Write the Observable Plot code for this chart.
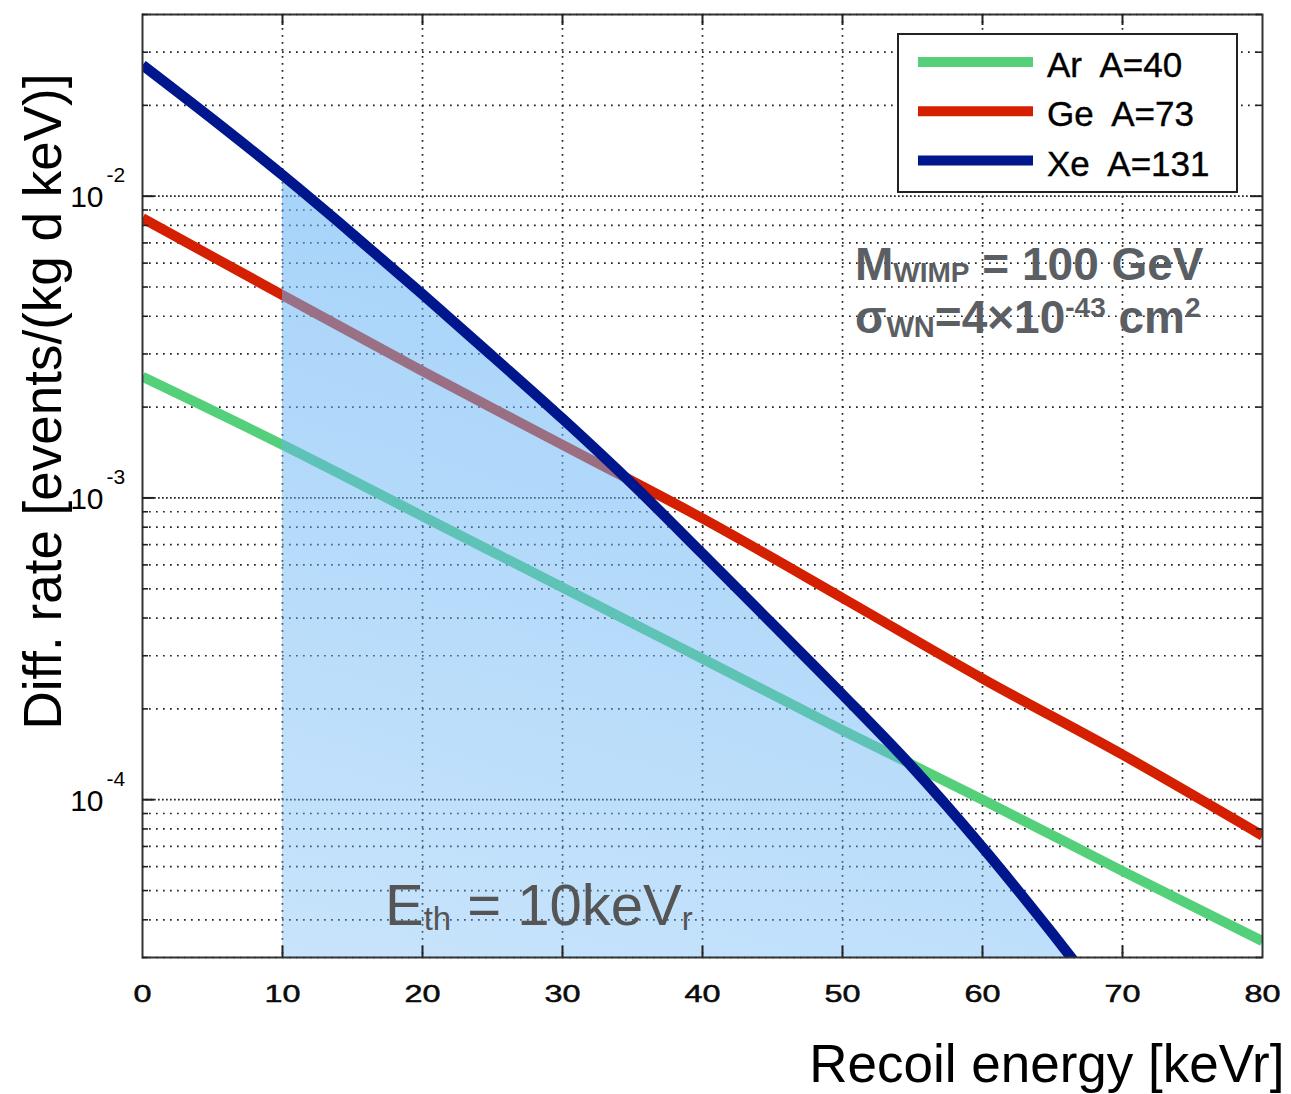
<!DOCTYPE html>
<html><head><meta charset="utf-8">
<script src="https://cdn.jsdelivr.net/npm/d3@7"></script>
<script src="https://cdn.jsdelivr.net/npm/@observablehq/plot@0.6"></script>
<style>
html,body{margin:0;padding:0;background:#fff;}
#chart{width:1291px;height:1094px;}
</style></head><body><div id="chart"></div>
<script>
// ---- data ----
const xeEnergy = [0, 5, 10, 15, 20, 25, 30, 35, 40, 45, 50, 55, 60, 65, 67];
const xeRate = [0.0272, 0.0180, 0.01175, 0.0075, 0.00473, 0.00295, 0.00183, 0.00111, 6.53e-4, 3.82e-4, 2.23e-4, 1.28e-4, 6.95e-5, 3.6e-5, 2.74e-5];
const energy = [0, 10, 20, 30, 40, 50, 60, 70, 80];
const geRate = [8.45e-3, 4.70e-3, 2.63e-3, 1.50e-3, 8.55e-4, 4.66e-4, 2.52e-4, 1.41e-4, 7.6e-5];
const arRate = [2.52e-3, 1.50e-3, 8.7e-4, 5.05e-4, 2.93e-4, 1.70e-4, 1.0e-4, 5.8e-5, 3.4e-5];
const seriesNames = ["Ar  A=40", "Ge  A=73", "Xe  A=131"];
const seriesColors = ["#55d07a", "#d42000", "#00168c"];
const threshold = 10;
const xTicks = [0, 10, 20, 30, 40, 50, 60, 70, 80];
const yMajorTicks = [1e-4, 1e-3, 1e-2];
const yExponents = ["-4", "-3", "-2"];
const xDomain = [0, 80];
const yDomain = [3e-5, 4e-2];
const xTitle = "Recoil energy [keVr]";
const yTitle = "Diff. rate [events/(kg d keV)]";

// ---- layout ----
const W = 1291, H = 1094, mL = 142, mR = 29, mT = 14, mB = 137;
const innerW = W - mL - mR, innerH = H - mT - mB;
const FONT = "'Liberation Sans', Arial, Helvetica, sans-serif";

const yMinor = [];
for (let k = -5; k <= -2; k++) for (let m = 2; m <= 9; m++) {
  const v = m * Math.pow(10, k);
  if (v >= yDomain[0] * 0.999 && v <= yDomain[1] * 1.001) yMinor.push(v);
}
const innerXTicks = xTicks.filter(d => d > xDomain[0] && d < xDomain[1]);

const xe = xeEnergy.map((e, i) => ({e, v: xeRate[i]}));
const ge = energy.map((e, i) => ({e, v: geRate[i]}));
const ar = energy.map((e, i) => ({e, v: arRate[i]}));
const fillData = xe.filter(d => d.e >= threshold);

const gridStroke = "#222";
const chart = Plot.plot({
  width: W, height: H,
  marginLeft: mL, marginRight: mR, marginTop: mT, marginBottom: mB,
  style: {fontFamily: FONT, background: "#fff", overflow: "visible", color: "#000"},
  x: {domain: xDomain, axis: null},
  y: {type: "log", domain: yDomain, axis: null},
  marks: [
    Plot.ruleY(yMinor, {stroke: gridStroke, strokeWidth: 1.7, strokeDasharray: "1.7,5.3"}),
    Plot.ruleY(yMajorTicks, {stroke: gridStroke, strokeWidth: 1.7, strokeDasharray: "1.7,2.3"}),
    Plot.ruleX(innerXTicks, {stroke: gridStroke, strokeWidth: 1.7, strokeDasharray: "1.7,5.3"}),
    Plot.line(ar, {x: "e", y: "v", stroke: seriesColors[0], strokeWidth: 10, curve: "monotone-x", clip: true, strokeLinecap: "butt"}),
    Plot.line(ge, {x: "e", y: "v", stroke: seriesColors[1], strokeWidth: 10, curve: "monotone-x", clip: true, strokeLinecap: "butt"}),
    Plot.areaY(fillData, {x: "e", y1: yDomain[0], y2: "v", fill: "url(#ethFill)", curve: "monotone-x", clip: true}),
    Plot.line(xe, {x: "e", y: "v", stroke: seriesColors[2], strokeWidth: 10.5, curve: "monotone-x", clip: true, strokeLinecap: "butt"}),
    Plot.frame({stroke: "#333", strokeWidth: 2}),
    // inward ticks
    Plot.ruleY(yMajorTicks, {insetRight: innerW - 12, stroke: "#222", strokeWidth: 2}),
    Plot.ruleY(yMajorTicks, {insetLeft: innerW - 12, stroke: "#222", strokeWidth: 2}),
    Plot.ruleY(yMinor, {insetRight: innerW - 6, stroke: "#222", strokeWidth: 1.6}),
    Plot.ruleY(yMinor, {insetLeft: innerW - 6, stroke: "#222", strokeWidth: 1.6}),
    Plot.ruleX(innerXTicks, {insetTop: innerH - 11, stroke: "#222", strokeWidth: 2}),
    Plot.ruleX(innerXTicks, {insetBottom: innerH - 11, stroke: "#222", strokeWidth: 2}),
    // tick labels
    Plot.text(xTicks, {x: d => d, y: yDomain[0], text: d => String(d), lineAnchor: "bottom", dy: 44, fontSize: 23, fill: "#0a0a0a", stroke: "#0a0a0a", strokeWidth: 0.5}),
    Plot.text(yMajorTicks, {x: xDomain[0], y: d => d, text: () => "10", textAnchor: "end", lineAnchor: "bottom", dx: -39, dy: 11, fontSize: 30, fill: "#000"}),
    Plot.text(yMajorTicks, {x: xDomain[0], y: d => d, text: (d, i) => yExponents[i], textAnchor: "start", lineAnchor: "bottom", dx: -36, dy: -14, fontSize: 21, fill: "#000"}),
    // axis titles
    Plot.text([yTitle], {frameAnchor: "left", rotate: -90, dx: -82, dy: -84.5, fontSize: 53, lineAnchor: "bottom", textAnchor: "middle", fill: "#000"}),
    Plot.text([xTitle], {frameAnchor: "bottom-right", textAnchor: "end", lineAnchor: "bottom", dx: 22, dy: 124, fontSize: 53, fill: "#000"})
  ]
});

const svg = d3.select(chart);
// gradient for threshold fill
const defs = svg.insert("defs", ":first-child");
const grad = defs.append("linearGradient").attr("id", "ethFill")
  .attr("x1", 0.3).attr("y1", 0).attr("x2", 0).attr("y2", 1);
grad.append("stop").attr("offset", 0).attr("stop-color", "rgb(104,180,245)").attr("stop-opacity", 0.6);
grad.append("stop").attr("offset", 1).attr("stop-color", "rgb(104,180,245)").attr("stop-opacity", 0.36);

// stretch x tick labels like the original bitmap font
svg.selectAll('g[fill="#0a0a0a"] text').each(function() {
  const n = this.textContent.length;
  this.setAttribute("textLength", 18 * n);
  this.setAttribute("lengthAdjust", "spacingAndGlyphs");
});

// legend
const lg = svg.append("g").attr("transform", "translate(898,34)")
  .attr("font-family", FONT).attr("text-anchor", "start");
lg.append("rect").attr("width", 339).attr("height", 158).attr("fill", "#fff").attr("stroke", "#222").attr("stroke-width", 2);
seriesNames.forEach((name, i) => {
  const cy = 28 + i * 49.3;
  lg.append("line").attr("x1", 20).attr("x2", 135).attr("y1", cy).attr("y2", cy)
    .attr("stroke", seriesColors[i]).attr("stroke-width", 10);
  lg.append("text").attr("x", 149).attr("y", cy + 15).attr("font-size", 35).attr("fill", "#000")
    .attr("stroke", "#000").attr("stroke-width", 0.4)
    .style("white-space", "pre").text(name);
});

// parameter annotation
const ann = svg.append("g").attr("fill", "#5b5f64").attr("font-weight", "bold")
  .attr("font-family", FONT).attr("font-size", 46).attr("text-anchor", "start");
const t1 = ann.append("text").attr("x", 855).attr("y", 280).style("white-space", "pre");
t1.append("tspan").text("M");
t1.append("tspan").attr("font-size", 28).attr("dy", 2).text("WIMP");
t1.append("tspan").attr("dy", -2).text(" = 100 GeV");
const t2 = ann.append("text").attr("x", 855).attr("y", 333).style("white-space", "pre");
t2.append("tspan").text("σ");
t2.append("tspan").attr("font-size", 29).attr("dy", 4).text("WN");
t2.append("tspan").attr("dy", -4).text("=4×10");
t2.append("tspan").attr("font-size", 28).attr("dy", -16).text("-43");
t2.append("tspan").attr("dy", 16).text(" cm");
t2.append("tspan").attr("font-size", 28).attr("dy", -16).text("2");

// threshold annotation
const t3 = svg.append("text").attr("x", 385).attr("y", 925).attr("fill", "#555").attr("text-anchor", "start")
  .attr("font-family", FONT).attr("font-size", 58).style("white-space", "pre");
t3.append("tspan").text("E");
t3.append("tspan").attr("font-size", 33).attr("dy", 5).text("th");
t3.append("tspan").attr("dy", -5).text(" = 10keV");
t3.append("tspan").attr("font-size", 33).attr("dy", 5).text("r");

document.getElementById("chart").appendChild(chart);
</script>
</body></html>
